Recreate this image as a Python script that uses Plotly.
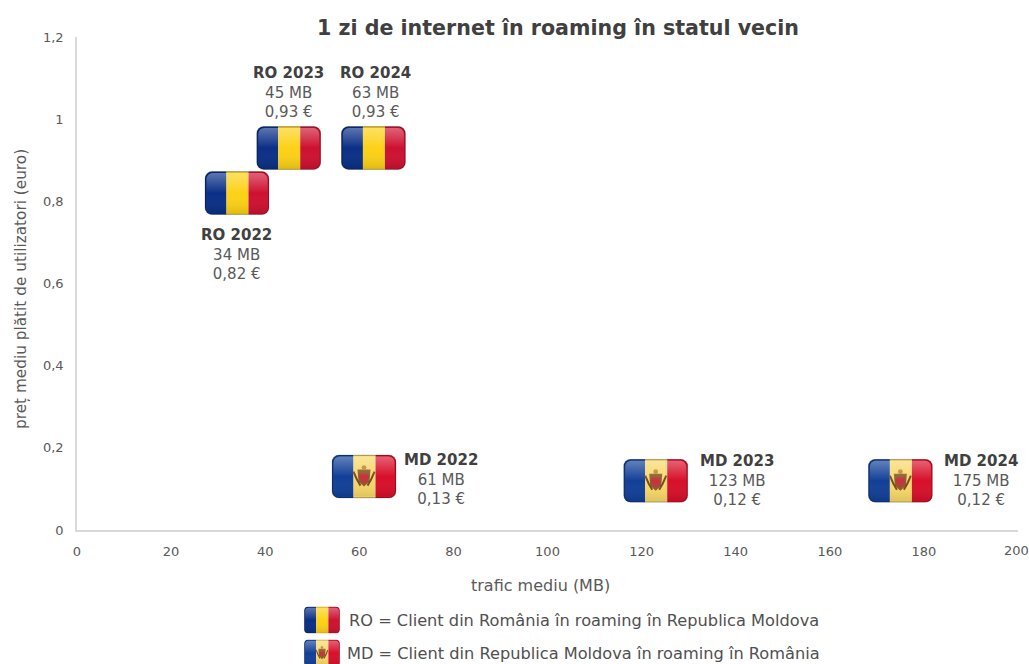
import base64
import plotly.graph_objects as go

# Data
ro_labels = ["RO 2022", "RO 2023", "RO 2024"]
ro_traffic = [34, 45, 63]
ro_price = [0.82, 0.93, 0.93]
ro_traffic_text = ["34 MB", "45 MB", "63 MB"]
ro_price_text = ["0,82 €", "0,93 €", "0,93 €"]

md_labels = ["MD 2022", "MD 2023", "MD 2024"]
md_traffic = [61, 123, 175]
md_price = [0.13, 0.12, 0.12]
md_traffic_text = ["61 MB", "123 MB", "175 MB"]
md_price_text = ["0,13 €", "0,12 €", "0,12 €"]

title_text = "1 zi de internet în roaming în statul vecin"
x_title = "trafic mediu (MB)"
y_title = "preț mediu plătit de utilizatori (euro)"
legend_ro = "RO = Client din România în roaming în Republica Moldova"
legend_md = "MD = Client din Republica Moldova în roaming în România"

# Plot geometry
W, H = 1029, 664
L, R, T, B = 77, 11, 37, 134
PW, PH = W - L - R, H - T - B
X_MAX, Y_MAX = 200, 1.2
FLAG_W, FLAG_H = 65, 44


def flag(c1, c2, c3, emblem=False):
    coat = ""
    if emblem:
        coat = ('<path d="M26 15 L39 15 L38 27 L32.5 32 L27 27 Z" fill="#8a5a2b"/>'
                '<path d="M28.5 19 h8 v6 l-4 4 l-4 -4 Z" fill="#c8313e"/>'
                '<path d="M22 17 q3 8 7 14 M43 17 q-3 8 -7 14" stroke="#7a4a1f" stroke-width="2" fill="none"/>'
                '<circle cx="32.5" cy="13" r="2.4" fill="#b8862b"/>')
    svg = f'''<svg xmlns="http://www.w3.org/2000/svg" width="65" height="44" viewBox="0 0 65 44">
<defs>
<linearGradient id="s" x1="0" y1="0" x2="0" y2="1">
<stop offset="0" stop-color="#fff" stop-opacity="0.34"/>
<stop offset="0.42" stop-color="#fff" stop-opacity="0.06"/>
<stop offset="0.5" stop-color="#fff" stop-opacity="0"/>
<stop offset="1" stop-color="#000" stop-opacity="0.10"/>
</linearGradient>
<clipPath id="c"><rect x="0.5" y="0.5" width="64" height="43" rx="7"/></clipPath>
</defs>
<g clip-path="url(#c)">
<rect x="0" width="22" height="44" fill="{c1}"/>
<rect x="22" width="22" height="44" fill="{c2}"/>
<rect x="44" width="21" height="44" fill="{c3}"/>
{coat}
<rect x="2" y="2" width="61" height="40" rx="6" fill="url(#s)"/>
</g>
<rect x="0.75" y="0.75" width="63.5" height="42.5" rx="7" fill="none" stroke="#000" stroke-opacity="0.28" stroke-width="1.5"/>
</svg>'''
    return "data:image/svg+xml;base64," + base64.b64encode(svg.encode()).decode()


ro_flag = flag("#0a2f86", "#fcd116", "#ce1130")
md_flag = flag("#123f97", "#f7d868", "#d80f2a", emblem=True)

images, annotations = [], []
TICK = "#595959"
FONT = "DejaVu Sans"


def label(x, y, name, traffic, price, xshift, yshift):
    annotations.append(dict(
        x=x, y=y, xref="x", yref="y", showarrow=False, xanchor="center", yanchor="middle",
        xshift=xshift, yshift=yshift, align="center",
        text=f'<b style="color:#404040">{name}</b><br>{traffic}<br>{price}',
        font=dict(family=FONT, size=15, color=TICK)))


def add_flag(src, x, y):
    images.append(dict(source=src, xref="x", yref="y", x=x, y=y,
                       sizex=FLAG_W / PW * X_MAX, sizey=FLAG_H / PH * Y_MAX,
                       xanchor="center", yanchor="middle", sizing="stretch", layer="above"))


ro_shift = [(0, -61), (0, 55), (2, 55)]
md_shift = [(77, -3), (81, 0), (81, 0)]
for i in range(3):
    add_flag(ro_flag, ro_traffic[i], ro_price[i])
    label(ro_traffic[i], ro_price[i], ro_labels[i], ro_traffic_text[i], ro_price_text[i], *ro_shift[i])
for i in range(3):
    add_flag(md_flag, md_traffic[i], md_price[i])
    label(md_traffic[i], md_price[i], md_labels[i], md_traffic_text[i], md_price_text[i], *md_shift[i])

# Legend built from flag images and text
for src, cy, txt, tx in [(ro_flag, 620, legend_ro, 347), (md_flag, 653, legend_md, 345)]:
    images.append(dict(source=src, xref="paper", yref="paper", x=(322 - L) / PW, y=(H - B - cy) / PH,
                       sizex=36 / PW, sizey=27 / PH, xanchor="center", yanchor="middle",
                       sizing="stretch", layer="above"))
    annotations.append(dict(xref="paper", yref="paper", x=(tx - L) / PW, y=(H - B - cy) / PH,
                            text=txt, showarrow=False, xanchor="left", yanchor="middle",
                            font=dict(family=FONT, size=16.2, color="#505050")))

# Axis titles, placed where the reference has them
annotations.append(dict(xref="paper", yref="paper", x=(540 - L) / PW, y=(H - B - 585) / PH, text=x_title,
                        showarrow=False, xanchor="center", yanchor="middle",
                        font=dict(family=FONT, size=16, color=TICK)))
annotations.append(dict(xref="paper", yref="paper", x=(21 - L) / PW, y=(H - B - 289) / PH, text=y_title,
                        textangle=-90, showarrow=False, xanchor="center", yanchor="middle",
                        font=dict(family=FONT, size=15.3, color=TICK)))
# The last x tick label sits on the window edge, where the axis would drop it
annotations.append(dict(x=X_MAX, xref="x", y=0, yref="y", yshift=-20, xshift=-2, text=str(X_MAX), showarrow=False,
                        xanchor="center", yanchor="middle", font=dict(family=FONT, size=13, color=TICK)))

fig = go.Figure()
fig.add_trace(go.Scatter(x=ro_traffic + md_traffic, y=ro_price + md_price, mode="markers",
                         marker=dict(size=1, opacity=0), hoverinfo="skip", showlegend=False))
fig.update_layout(
    width=W, height=H, autosize=False,
    margin=dict(l=L, r=R, t=T, b=B, pad=0),
    paper_bgcolor="white", plot_bgcolor="white",
    separators=", ",
    showlegend=False,
    title=dict(text=f"<b>{title_text}</b>", x=558 / W, xanchor="center", y=1 - 28 / H, yanchor="middle",
               font=dict(family=FONT, size=20.6, color="#404040")),
    images=images, annotations=annotations,
    xaxis=dict(range=[0, X_MAX], dtick=20, showgrid=False, zeroline=False, showline=True,
               linecolor="#d9d9d9", linewidth=1.5, ticks="outside", ticklen=9, tickcolor="rgba(0,0,0,0)",
               automargin=False, tickfont=dict(family=FONT, size=13, color=TICK)),
    yaxis=dict(range=[0, Y_MAX], dtick=0.2, showgrid=False, zeroline=False, showline=True,
               linecolor="#d9d9d9", linewidth=1.5, ticks="outside", ticklen=9, tickcolor="rgba(0,0,0,0)",
               automargin=False, tickfont=dict(family=FONT, size=13, color=TICK)),
)
fig.write_html("out.html", config=dict(displayModeBar=False),
               post_script="document.body.style.margin='0';document.documentElement.style.overflow='hidden';")
